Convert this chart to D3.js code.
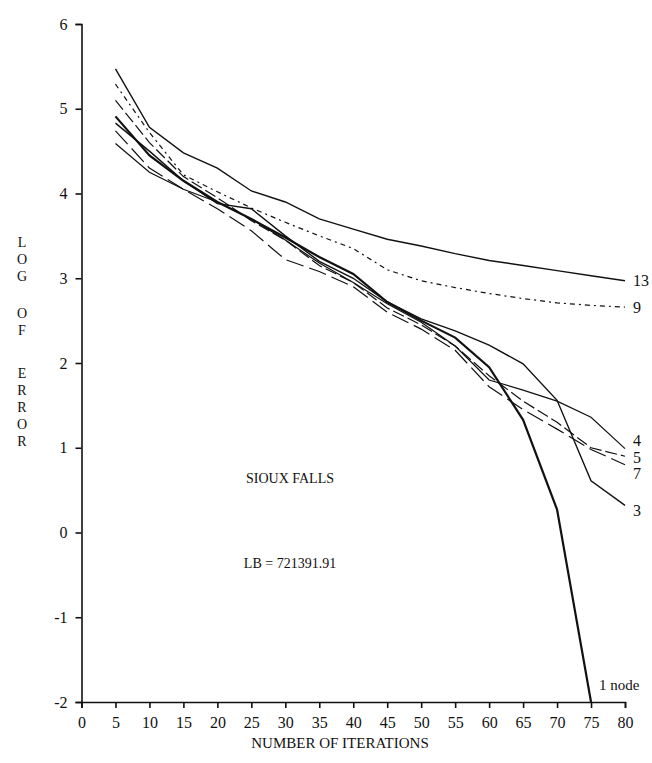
<!DOCTYPE html>
<html>
<head>
<meta charset="utf-8">
<style>
    body { margin: 0; background: #fff; }
    svg text { font-family: "Liberation Serif", "Times New Roman", "DejaVu Serif", serif; fill: #111; }
    .axis path, .axis line { stroke: #111; stroke-width: 1.6px; }
    .axis text { font-size: 16px; }
    path.series { fill: none; stroke: #111; }
</style>
</head>
<body>
<div id="chart"></div>
<script src="https://cdn.jsdelivr.net/npm/d3@7"></script>
<script>
    var iterations = [5, 10, 15, 20, 25, 30, 35, 40, 45, 50, 55, 60, 65, 70, 75, 80];

    var node13 = [5.47, 4.78, 4.48, 4.30, 4.03, 3.90, 3.70, 3.58, 3.46, 3.38, 3.29, 3.21, 3.15, 3.09, 3.03, 2.97];
    var node9 = [5.29, 4.72, 4.22, 4.02, 3.83, 3.66, 3.50, 3.35, 3.10, 2.97, 2.89, 2.82, 2.76, 2.71, 2.68, 2.66];
    var node7 = [4.74, 4.30, 4.05, 3.82, 3.56, 3.22, 3.08, 2.90, 2.60, 2.40, 2.15, 1.72, 1.45, 1.22, 0.98, 0.80];
    var node5 = [5.10, 4.60, 4.20, 3.95, 3.68, 3.45, 3.15, 2.95, 2.65, 2.45, 2.20, 1.85, 1.55, 1.30, 1.00, 0.90];
    var node4 = [4.59, 4.25, 4.05, 3.90, 3.70, 3.45, 3.18, 2.95, 2.70, 2.48, 2.20, 1.80, 1.68, 1.55, 1.36, 0.99];
    var node3 = [4.83, 4.50, 4.15, 3.88, 3.82, 3.50, 3.20, 3.00, 2.72, 2.52, 2.38, 2.21, 1.99, 1.56, 0.61, 0.32];
    var node1 = [4.91, 4.45, 4.15, 3.90, 3.70, 3.48, 3.25, 3.05, 2.72, 2.50, 2.30, 1.95, 1.33, 0.27, -2.00];

    var xTicks = d3.range(0, 81, 5);
    var yTicks = [-2, -1, 0, 1, 2, 3, 4, 5, 6];
    var yTitleWords = ["LOG", "OF", "ERROR"];

    var series = [
        {label: "13", values: node13, width: 1.4, dash: null, labelAt: 2.97},
        {label: "9", values: node9, width: 1.2, dash: "5,4,2,4", labelAt: 2.66},
        {label: "4", values: node4, width: 1.2, dash: null, labelAt: 1.09},
        {label: "5", values: node5, width: 1.2, dash: "12,4", labelAt: 0.89},
        {label: "7", values: node7, width: 1.2, dash: "18,6", labelAt: 0.70},
        {label: "3", values: node3, width: 1.4, dash: null, labelAt: 0.26},
        {label: "1 node", values: node1, width: 2.2, dash: null, labelAt: null}
    ];

    var width = 652, height = 763;

    var svg = d3.select("#chart").append("svg")
        .attr("width", width)
        .attr("height", height)
        .attr("font-family", "'Liberation Serif', 'Times New Roman', serif");

    svg.append("rect").attr("width", width).attr("height", height).attr("fill", "#fff");

    var x = d3.scaleLinear().domain([0, 80]).range([81.5, 625]);
    var y = d3.scaleLinear().domain([-2, 6]).range([702, 24]);

    // the scan uses a plain hyphen for negatives
    var plain = function (d) { return String(d); };

    svg.append("g")
        .attr("class", "axis")
        .attr("transform", "translate(0," + y(-2) + ")")
        .call(d3.axisBottom(x).tickValues(xTicks).tickFormat(plain).tickSize(6).tickSizeOuter(6).tickPadding(9))
        .attr("font-family", null);

    svg.append("g")
        .attr("class", "axis")
        .attr("transform", "translate(" + x(0) + ",0)")
        .call(d3.axisLeft(y).tickValues(yTicks).tickFormat(plain).tickSize(6).tickSizeOuter(6).tickPadding(8))
        .attr("font-family", null);

    var line = d3.line()
        .x(function (d, i) { return x(iterations[i]); })
        .y(function (d) { return y(d); });

    svg.selectAll("path.series")
        .data(series)
        .enter()
        .append("path")
        .attr("class", "series")
        .attr("d", function (d) { return line(d.values); })
        .attr("stroke-width", function (d) { return d.width; })
        .attr("stroke-dasharray", function (d) { return d.dash; });

    svg.selectAll("text.end")
        .data(series.filter(function (d) { return d.labelAt !== null; }))
        .enter()
        .append("text")
        .attr("class", "end")
        .attr("x", x(80) + 8)
        .attr("y", function (d) { return y(d.labelAt); })
        .attr("dy", "0.35em")
        .style("font-size", "16px")
        .text(function (d) { return d.label; });

    svg.append("text")
        .attr("x", x(75) + 8)
        .attr("y", y(-1.8))
        .attr("dy", "0.35em")
        .style("font-size", "15px")
        .text("1 node");

    svg.append("text")
        .attr("x", 340)
        .attr("y", 748)
        .attr("text-anchor", "middle")
        .style("font-size", "15px")
        .text("NUMBER OF ITERATIONS");

    svg.append("text")
        .attr("x", 290)
        .attr("y", 478)
        .attr("dy", "0.35em")
        .attr("text-anchor", "middle")
        .style("font-size", "14px")
        .text("SIOUX FALLS");

    svg.append("text")
        .attr("x", 290)
        .attr("y", 563)
        .attr("dy", "0.35em")
        .attr("text-anchor", "middle")
        .style("font-size", "14px")
        .text("LB = 721391.91");

    // stacked letters of the vertical axis title, one word per block
    var wordTop = [247, 318, 378];
    var gTitle = svg.append("g");
    yTitleWords.forEach(function (word, w) {
        gTitle.selectAll("text.w" + w)
            .data(word.split(""))
            .enter()
            .append("text")
            .attr("class", "w" + w)
            .attr("x", 22)
            .attr("y", function (d, i) { return wordTop[w] + i * 17; })
            .attr("text-anchor", "middle")
            .style("font-size", "14px")
            .text(function (d) { return d; });
    });
</script>
</body>
</html>
